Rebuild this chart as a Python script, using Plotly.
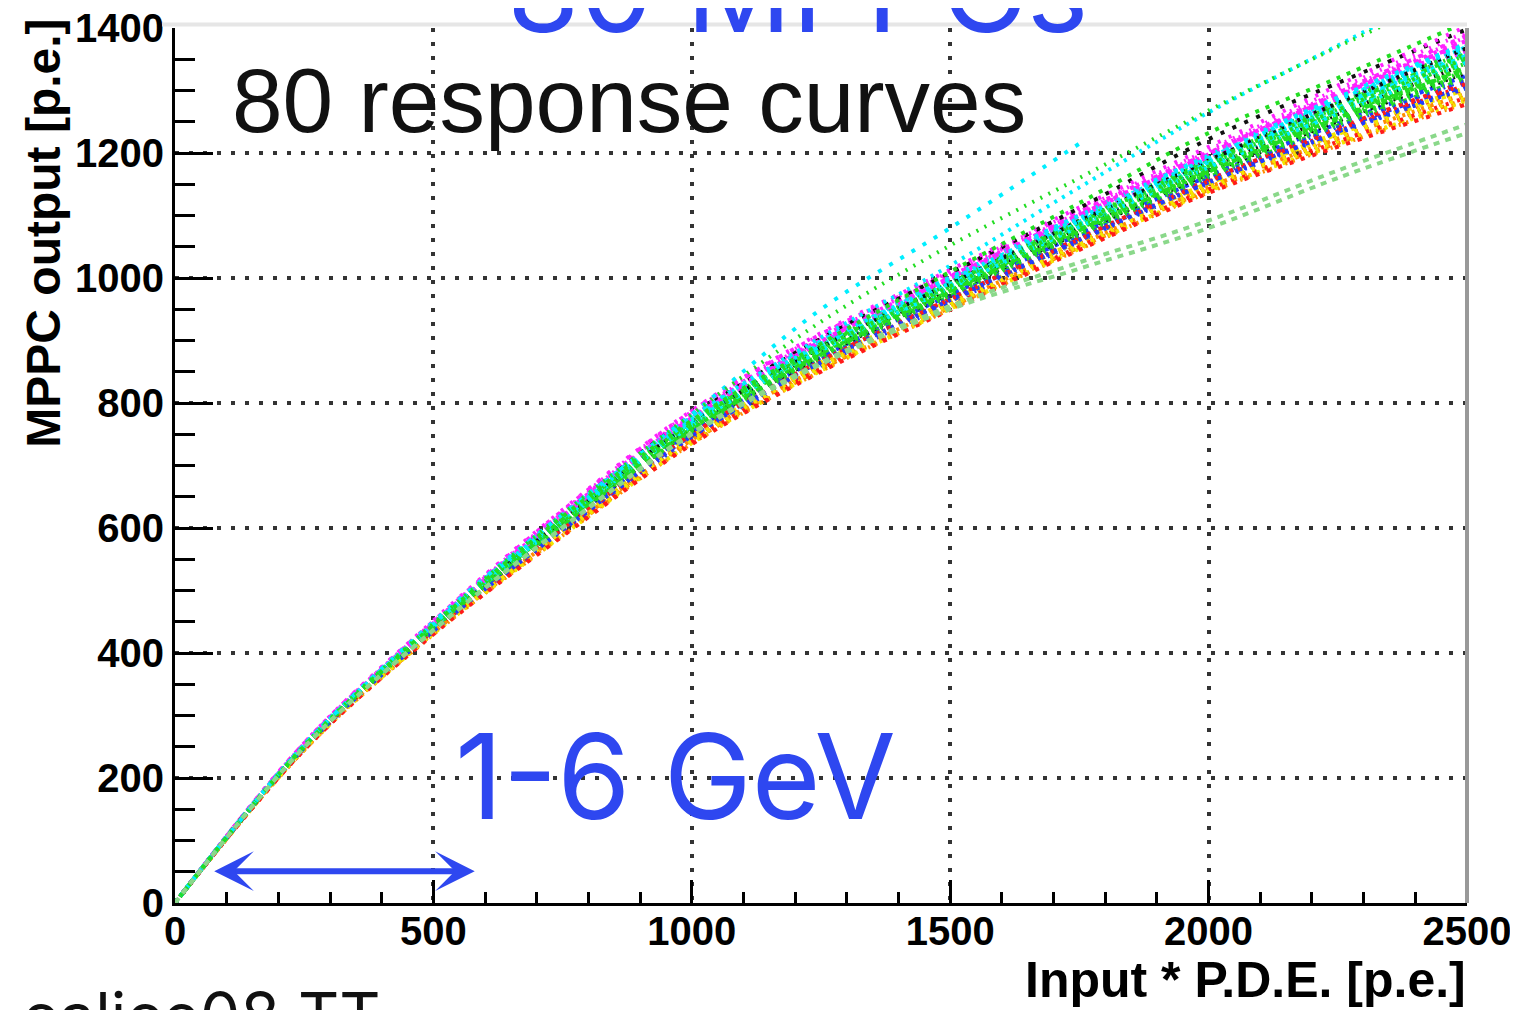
import plotly.graph_objects as go

# ---------------- data ----------------
input_pe = [0, 250, 500, 750, 1000, 1250, 1500, 1750, 2000, 2250, 2500]
x_tick_vals = [0, 500, 1000, 1500, 2000, 2500]
y_tick_vals = [0, 200, 400, 600, 800, 1000, 1200, 1400]

ch01 = [0, 245, 432, 592, 741, 858, 957, 1055, 1146, 1224, 1295]
ch02 = [0, 251, 442, 610, 764, 884, 984, 1082, 1177, 1264, 1346]
ch03 = [0, 247, 435, 598, 748, 867, 966, 1063, 1156, 1238, 1312]
ch04 = [0, 246, 431, 589, 736, 852, 951, 1047, 1139, 1214, 1284]
ch05 = [0, 255, 450, 626, 786, 909, 1010, 1109, 1205, 1302, 1394]
ch06 = [0, 253, 447, 620, 777, 900, 1001, 1100, 1196, 1290, 1376]
ch07 = [0, 252, 445, 616, 772, 894, 995, 1094, 1190, 1281, 1366]
ch08 = [0, 245, 430, 588, 735, 851, 950, 1046, 1137, 1212, 1280]
ch09 = [0, 250, 440, 606, 759, 878, 979, 1076, 1170, 1256, 1335]
ch10 = [0, 247, 434, 595, 744, 862, 961, 1057, 1150, 1229, 1302]
ch11 = [0, 252, 444, 614, 769, 891, 991, 1090, 1185, 1274, 1358]
ch12 = [0, 256, 451, 628, 787, 910, 1008, 1106, 1200, 1292, 1378]
ch13 = [0, 249, 438, 603, 755, 874, 974, 1071, 1165, 1249, 1326]
ch14 = [0, 248, 436, 600, 751, 870, 969, 1066, 1159, 1242, 1318]
ch15 = [0, 248, 435, 597, 747, 865, 964, 1060, 1152, 1232, 1305]
ch16 = [0, 251, 443, 612, 767, 888, 989, 1088, 1183, 1271, 1355]
ch17 = [0, 250, 441, 609, 763, 883, 983, 1081, 1176, 1262, 1343]
ch18 = [0, 253, 446, 617, 773, 895, 996, 1095, 1190, 1282, 1367]
ch19 = [0, 246, 433, 593, 742, 859, 958, 1054, 1145, 1222, 1292]
ch20 = [0, 254, 448, 622, 779, 902, 1003, 1102, 1198, 1293, 1380]
ch21 = [0, 249, 439, 605, 757, 876, 977, 1074, 1168, 1252, 1330]
ch22 = [0, 252, 445, 615, 771, 892, 993, 1092, 1187, 1277, 1361]
ch23 = [0, 247, 433, 594, 743, 860, 960, 1058, 1151, 1231, 1306]
ch24 = [0, 246, 432, 590, 738, 854, 953, 1049, 1141, 1216, 1287]
ch25 = [0, 251, 442, 611, 765, 886, 986, 1084, 1179, 1266, 1349]
ch26 = [0, 255, 449, 624, 782, 905, 1006, 1105, 1202, 1297, 1386]
ch27 = [0, 247, 434, 596, 745, 863, 962, 1059, 1151, 1230, 1302]
ch28 = [0, 253, 446, 619, 775, 897, 998, 1097, 1193, 1286, 1372]
ch29 = [0, 250, 441, 608, 761, 881, 981, 1079, 1173, 1259, 1340]
ch30 = [0, 253, 447, 621, 779, 903, 1008, 1112, 1222, 1312, 1398]
ch31 = [0, 247, 435, 598, 748, 866, 965, 1062, 1154, 1235, 1309]
ch32 = [0, 252, 444, 613, 768, 889, 990, 1089, 1184, 1273, 1357]
ch33 = [0, 249, 438, 603, 754, 873, 973, 1070, 1163, 1247, 1324]
ch34 = [0, 254, 447, 620, 776, 898, 999, 1098, 1194, 1287, 1373]
ch35 = [0, 251, 443, 611, 766, 887, 987, 1086, 1181, 1268, 1351]
ch36 = [0, 248, 437, 601, 752, 871, 971, 1068, 1161, 1244, 1320]
ch37 = [0, 246, 432, 591, 740, 857, 956, 1051, 1143, 1219, 1290]
ch38 = [0, 251, 442, 610, 764, 885, 985, 1083, 1178, 1265, 1347]
ch39 = [0, 248, 436, 599, 750, 868, 967, 1064, 1157, 1240, 1315]
ch40 = [0, 253, 446, 618, 774, 896, 997, 1096, 1192, 1284, 1370]
ch41 = [0, 252, 445, 616, 772, 893, 994, 1093, 1189, 1280, 1364]
ch42 = [0, 250, 440, 607, 760, 880, 980, 1077, 1171, 1257, 1337]
ch43 = [0, 248, 437, 600, 751, 869, 968, 1065, 1158, 1241, 1316]
ch44 = [0, 249, 439, 604, 756, 875, 976, 1073, 1167, 1251, 1329]
ch45 = [0, 252, 444, 614, 770, 891, 992, 1091, 1186, 1276, 1360]
ch46 = [0, 251, 441, 609, 762, 882, 982, 1080, 1175, 1261, 1342]
ch47 = [0, 247, 433, 593, 741, 858, 957, 1053, 1145, 1223, 1296]
ch48 = [0, 253, 446, 618, 775, 898, 1000, 1100, 1197, 1291, 1378]
ch49 = [0, 249, 438, 604, 756, 876, 976, 1073, 1166, 1250, 1328]
ch50 = [0, 245, 431, 588, 736, 852, 951, 1047, 1139, 1215, 1283]
ch51 = [0, 251, 442, 610, 765, 886, 986, 1085, 1180, 1267, 1350]
ch52 = [0, 246, 432, 591, 739, 855, 954, 1050, 1142, 1218, 1289]
ch53 = [0, 252, 445, 615, 771, 892, 993, 1092, 1188, 1278, 1362]
ch54 = [0, 247, 434, 596, 746, 864, 963, 1060, 1153, 1234, 1308]
ch55 = [0, 254, 448, 621, 778, 901, 1002, 1101, 1198, 1294, 1382]
ch56 = [0, 252, 445, 616, 772, 894, 995, 1094, 1190, 1281, 1366]
ch57 = [0, 250, 440, 606, 759, 879, 979, 1077, 1171, 1256, 1336]
ch58 = [0, 251, 443, 612, 768, 889, 991, 1091, 1188, 1280, 1368]
ch59 = [0, 249, 438, 602, 753, 872, 972, 1069, 1162, 1245, 1321]
ch60 = [0, 253, 447, 620, 777, 899, 1001, 1100, 1196, 1289, 1375]
ch61 = [0, 248, 436, 598, 749, 867, 966, 1062, 1155, 1237, 1311]
ch62 = [0, 251, 443, 612, 767, 888, 988, 1087, 1182, 1270, 1353]
ch63 = [0, 253, 446, 619, 776, 899, 1001, 1101, 1199, 1296, 1388]
ch64 = [0, 247, 433, 593, 742, 859, 958, 1054, 1146, 1225, 1297]
ch65 = [0, 251, 442, 610, 764, 884, 984, 1082, 1177, 1263, 1345]
ch66 = [0, 252, 444, 614, 769, 890, 991, 1090, 1186, 1275, 1359]
ch67 = [0, 248, 435, 597, 747, 865, 965, 1061, 1153, 1233, 1304]
ch68 = [0, 250, 441, 608, 762, 882, 983, 1081, 1176, 1262, 1344]
ch69 = [0, 252, 444, 613, 769, 890, 990, 1089, 1184, 1272, 1356]
ch70 = [0, 256, 452, 629, 788, 912, 1013, 1113, 1210, 1308, 1403]
ch71 = [0, 249, 439, 605, 757, 877, 977, 1075, 1169, 1254, 1332]
ch72 = [0, 245, 430, 587, 734, 850, 949, 1045, 1136, 1210, 1278]
ch73 = [0, 251, 442, 611, 766, 887, 987, 1086, 1181, 1269, 1352]
ch74 = [0, 253, 446, 617, 773, 895, 997, 1096, 1192, 1285, 1371]
ch75 = [0, 252, 450, 622, 782, 950, 1080, 1215, None, None, None]
ch76 = [0, 253, 447, 622, 778, 905, 1020, 1145, 1265, 1372, 1480]
ch77 = [0, 252, 447, 622, 782, 930, 1052, 1160, 1268, 1370, 1465]
ch78 = [0, 251, 445, 618, 772, 895, 1010, 1120, 1232, 1320, 1410]
ch79 = [0, 249, 436, 600, 750, 862, 950, 1015, 1080, 1160, 1232]
ch80 = [0, 249, 437, 601, 752, 865, 955, 1025, 1092, 1172, 1246]

curves = [ch01, ch02, ch03, ch04, ch05, ch06, ch07, ch08, ch09, ch10,
          ch11, ch12, ch13, ch14, ch15, ch16, ch17, ch18, ch19, ch20,
          ch21, ch22, ch23, ch24, ch25, ch26, ch27, ch28, ch29, ch30,
          ch31, ch32, ch33, ch34, ch35, ch36, ch37, ch38, ch39, ch40,
          ch41, ch42, ch43, ch44, ch45, ch46, ch47, ch48, ch49, ch50,
          ch51, ch52, ch53, ch54, ch55, ch56, ch57, ch58, ch59, ch60,
          ch61, ch62, ch63, ch64, ch65, ch66, ch67, ch68, ch69, ch70,
          ch71, ch72, ch73, ch74, ch75, ch76, ch77, ch78, ch79, ch80]

# ---------------- style ----------------
palette = {
    "R": "#ff1a1a", "G": "#22dd22", "B": "#1f3cff", "Y": "#f2e600",
    "M": "#ff22ff", "C": "#00eeff", "K": "#111111", "O": "#ff8c00",
    "L": "#8ad88a",
}
color_keys = ("R G B Y M C K O G R C M G B Y C K G R M G C B O G M Y C G K "
              "R G B M C G Y G R C M G B K C G O M G Y C R G B M C G K G C "
              "R G M Y C G B G C M G R G C C C G G L L").split()
dash_cycle = ["3px,8px", "3px,7px", "4px,9px", "3px,6px", "2px,7px",
              "4px,7px", "3px,9px", "2px,6px", "4px,8px"]

BLUE_TXT = "#2e47f0"

fig = go.Figure()
for i, ys in enumerate(curves):
    key = color_keys[i]
    dash = "6px,6px" if key == "L" else dash_cycle[i % len(dash_cycle)]
    fig.add_trace(go.Scatter(
        x=input_pe, y=ys, mode="lines",
        line=dict(color=palette[key], width=4, dash=dash, shape="spline", smoothing=1.0),
        showlegend=False, hoverinfo="skip",
    ))

axis_common = dict(
    showline=True, linecolor="black", linewidth=3,
    ticks="inside", tickcolor="black", tickwidth=3,
    showgrid=True, gridcolor="#333333", gridwidth=3.5, griddash="4px,10px",
    zeroline=False, automargin=False, ticklabeloverflow="allow",
    tickfont=dict(family="Liberation Sans", size=40, color="black", weight="bold"),
)

fig.update_xaxes(
    range=[0, 2500], tickvals=x_tick_vals, ticktext=[str(v) for v in x_tick_vals],
    ticklen=23, ticklabelstandoff=-9,
    minor=dict(dtick=100, ticklen=11, tickwidth=3, tickcolor="black", ticks="inside", showgrid=False),
    **axis_common,
)
fig.update_yaxes(
    range=[0, 1400], tickvals=y_tick_vals, ticktext=[str(v) for v in y_tick_vals],
    ticklen=38, ticklabelstandoff=0,
    minor=dict(dtick=50, ticklen=20, tickwidth=3, tickcolor="black", ticks="inside", showgrid=False),
    **axis_common,
)

# frame (top light grey, right grey)
fig.add_shape(type="line", xref="paper", yref="paper", x0=-0.01, x1=1.0, y0=1.004, y1=1.004,
              line=dict(color="#e6e6e6", width=4), layer="above")
fig.add_shape(type="line", xref="paper", yref="paper", x0=1.0, x1=1.0, y0=0, y1=1.0,
              line=dict(color="#999999", width=4), layer="above")

# texts
fig.add_annotation(text="80 response curves", xref="paper", yref="paper",
                   x=0.0426, y=0.9166, xanchor="left", yanchor="middle", showarrow=False,
                   font=dict(family="Liberation Sans", size=91, color="#111111"))
fig.add_annotation(text="80 MPPCs", xref="paper", yref="paper",
                   x=0.2554, y=1.0442, xanchor="left", yanchor="middle", showarrow=False,
                   font=dict(family="Inter", size=117, color=BLUE_TXT))
fig.add_annotation(text="1-6 GeV", xref="paper", yref="paper",
                   x=0.2152, y=0.1446, xanchor="left", yanchor="middle", showarrow=False,
                   font=dict(family="Inter", size=118, color=BLUE_TXT))
fig.add_annotation(text="calice08 TT", xref="paper", yref="paper",
                   x=-0.12, y=-0.129, xanchor="left", yanchor="middle", showarrow=False,
                   font=dict(family="Inter", size=64, color="#111111"))
fig.add_annotation(text="Input * P.D.E. [p.e.]", xref="paper", yref="paper",
                   x=1.0008, y=-0.088, xanchor="right", yanchor="middle", showarrow=False,
                   font=dict(family="Liberation Sans", size=50, color="black", weight="bold"))
fig.add_annotation(text="MPPC output [p.e.]", xref="paper", yref="paper",
                   x=-0.102, y=1.0126, xanchor="center", yanchor="top", textangle=-90,
                   showarrow=False,
                   font=dict(family="Liberation Sans", size=48, color="black", weight="bold"))

# double arrow
fig.add_annotation(x=580, y=51, ax=73, ay=51, xref="x", yref="y", axref="x", ayref="y",
                   text="", showarrow=True, arrowhead=3, startarrowhead=3,
                   arrowside="end+start", arrowwidth=6, arrowsize=1.1, startarrowsize=1.1,
                   arrowcolor=BLUE_TXT)

# body margin of the page (8px) is compensated in the figure margins
fig.update_layout(
    width=1518, height=1010,
    margin=dict(l=167, r=59, t=20, b=115),
    paper_bgcolor="white", plot_bgcolor="white",
    showlegend=False,
)

fig.write_html("out.html")
